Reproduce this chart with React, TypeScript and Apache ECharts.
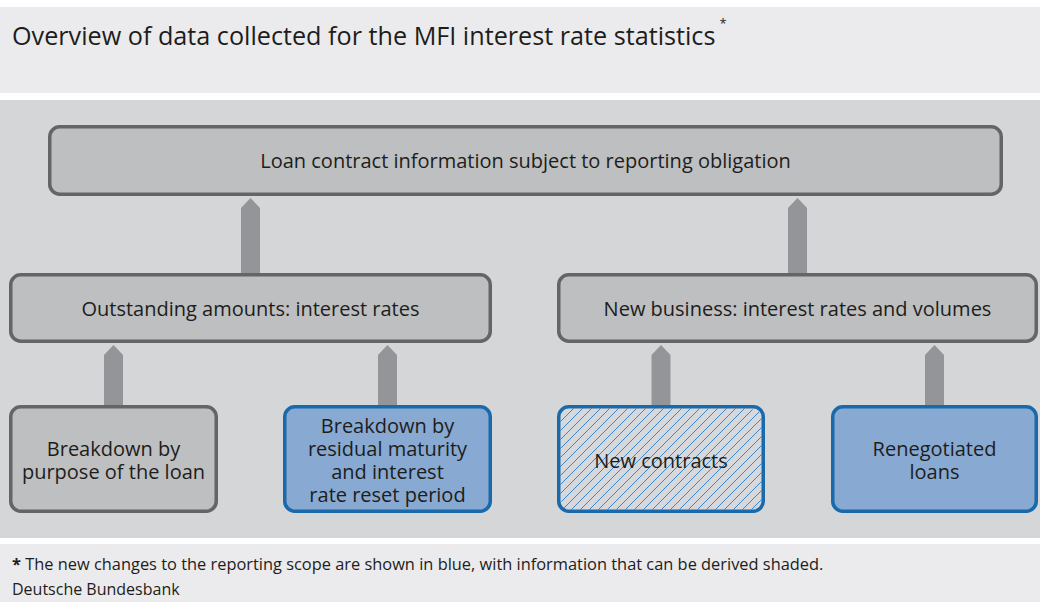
import React, { useEffect, useRef } from "react";
import * as echarts from "echarts";

// ---- content ----
const titleText = "Overview of data collected for the MFI interest rate statistics";
const topLabel = "Loan contract information subject to reporting obligation";
const midLabels = ["Outstanding amounts: interest rates", "New business: interest rates and volumes"];
const bottomLabels = [
  ["Breakdown by", "purpose of the loan"],
  ["Breakdown by", "residual maturity", "and interest", "rate reset period"],
  ["New contracts"],
  ["Renegotiated", "loans"],
];
// existing = grey, new = blue, derived = blue hatched
const bottomKinds = ["existing", "new", "derived", "new"];
const bottomParent = [0, 0, 1, 1];
const footnoteText = " The new changes to the reporting scope are shown in blue, with information that can be derived shaded.";
const sourceText = "Deutsche Bundesbank";

// ---- layout & style ----
const FONT = "'Open Sans', 'Noto Sans', sans-serif";
const C = {
  panel: "#D5D6D8",
  light: "#EBEBED",
  boxFill: "#BEBFC1",
  boxStroke: "#646567",
  blueFill: "#88A9D1",
  blueStroke: "#1A69AB",
  hatch: "#3C87C8",
  hatchFill: "#D6D8DB",
  arrow: "#949599",
  text: "#1D1D1B",
};
const BW = 3.5;
const R = 10;
const topBox = { x0: 48, y0: 125, x1: 1003, y1: 196 };
const midBoxes = [
  { x0: 9, y0: 273, x1: 492, y1: 343 },
  { x0: 557, y0: 273, x1: 1038, y1: 343 },
];
const bottomBoxes = [
  { x0: 9, y0: 405, x1: 218, y1: 513 },
  { x0: 283, y0: 405, x1: 492, y1: 513 },
  { x0: 557, y0: 405, x1: 765, y1: 513 },
  { x0: 831, y0: 405, x1: 1038, y1: 513 },
];

function boxRect(b: any, fill: string, stroke: string) {
  return {
    type: "rect",
    shape: {
      x: b.x0 + BW / 2,
      y: b.y0 + BW / 2,
      width: b.x1 - b.x0 - BW,
      height: b.y1 - b.y0 - BW,
      r: R,
    },
    style: { fill, stroke, lineWidth: BW },
  };
}

function arrow(cx: number, tipY: number, bottomY: number) {
  const hw = 9.5;
  return {
    type: "polygon",
    shape: {
      points: [
        [cx - hw, bottomY],
        [cx - hw, tipY + 10],
        [cx, tipY],
        [cx + hw, tipY + 10],
        [cx + hw, bottomY],
      ],
    },
    style: { fill: C.arrow },
  };
}

function label(lines: string[], cx: number, cy: number, size = 20, lh = 23) {
  return {
    type: "text",
    style: {
      text: lines.join("\n"),
      x: cx,
      y: cy,
      align: "center",
      verticalAlign: "middle",
      fontSize: size,
      fontFamily: FONT,
      lineHeight: lh,
      fill: C.text,
    },
  };
}

function insideRounded(x: number, y: number, b: any, r: number) {
  if (x < b.x0 || x > b.x1 || y < b.y0 || y > b.y1) return false;
  const cxs = [b.x0 + r, b.x1 - r];
  const cys = [b.y0 + r, b.y1 - r];
  const cx = x < cxs[0] ? cxs[0] : x > cxs[1] ? cxs[1] : null;
  const cy = y < cys[0] ? cys[0] : y > cys[1] ? cys[1] : null;
  if (cx !== null && cy !== null) {
    return (x - cx) * (x - cx) + (y - cy) * (y - cy) <= r * r;
  }
  return true;
}

function hatchLines(b0: any) {
  const ins = BW;
  const b = { x0: b0.x0 + ins, y0: b0.y0 + ins, x1: b0.x1 - ins, y1: b0.y1 - ins };
  const r = R - ins / 2;
  const out: any[] = [];
  const step = 9;
  for (let c = b.x0 + b.y0 + 4; c < b.x1 + b.y1; c += step) {
    const xs = Math.max(b.x0, c - b.y1);
    const xe = Math.min(b.x1, c - b.y0);
    if (xe <= xs) continue;
    const N = 120;
    let first = -1, last = -1;
    for (let i = 0; i <= N; i++) {
      const x = xs + ((xe - xs) * i) / N;
      const y = c - x;
      if (insideRounded(x, y, b, r)) {
        if (first < 0) first = i;
        last = i;
      }
    }
    if (first < 0 || last <= first) continue;
    const xa = xs + ((xe - xs) * first) / N;
    const xb = xs + ((xe - xs) * last) / N;
    out.push({
      type: "line",
      shape: { x1: xa, y1: c - xa, x2: xb, y2: c - xb },
      style: { stroke: C.hatch, lineWidth: 1 },
    });
  }
  return out;
}

function measure(text: string, font: string) {
  const cv = document.createElement("canvas");
  const ctx = cv.getContext("2d")!;
  ctx.font = font;
  return ctx.measureText(text).width;
}

export default function App() {
  const ref = useRef<HTMLDivElement>(null);
  useEffect(() => {
    document.body.style.margin = "0";
    const chart = echarts.init(ref.current!, null, { renderer: "svg" });
    const els: any[] = [];

    // panels
    els.push({ type: "rect", shape: { x: 0, y: 7, width: 1040, height: 86 }, style: { fill: C.light } });
    els.push({ type: "rect", shape: { x: 0, y: 100, width: 1040, height: 438 }, style: { fill: C.panel } });
    els.push({ type: "rect", shape: { x: 0, y: 544, width: 1040, height: 58 }, style: { fill: C.light } });

    // title
    const titleSize = 25.2;
    els.push({
      type: "text",
      style: { text: titleText, x: 12, y: 35, verticalAlign: "middle", fontSize: titleSize, fontFamily: FONT, fill: C.text },
    });
    const tw = measure(titleText, `${titleSize}px 'Open Sans'`);
    els.push({
      type: "text",
      style: { text: "*", x: 12 + tw + 4, y: 23, verticalAlign: "middle", fontSize: 13, fontFamily: FONT, fill: C.text },
    });

    // arrows top level
    midBoxes.forEach((b) => {
      const cx = (b.x0 + b.x1) / 2;
      els.push(arrow(cx, topBox.y1 + 2, b.y0 + 2));
    });
    // arrows bottom level
    bottomBoxes.forEach((b, i) => {
      const cx = (b.x0 + b.x1) / 2;
      els.push(arrow(cx, midBoxes[bottomParent[i]].y1 + 2, b.y0 + 2));
    });

    // top box
    els.push(boxRect(topBox, C.boxFill, C.boxStroke));
    els.push(label([topLabel], (topBox.x0 + topBox.x1) / 2, (topBox.y0 + topBox.y1) / 2));

    midBoxes.forEach((b, i) => {
      els.push(boxRect(b, C.boxFill, C.boxStroke));
      els.push(label([midLabels[i]], (b.x0 + b.x1) / 2, (b.y0 + b.y1) / 2));
    });

    bottomBoxes.forEach((b, i) => {
      const kind = bottomKinds[i];
      if (kind === "existing") {
        els.push(boxRect(b, C.boxFill, C.boxStroke));
      } else if (kind === "new") {
        els.push(boxRect(b, C.blueFill, C.blueStroke));
      } else {
        els.push({ ...boxRect(b, C.hatchFill, "none"), style: { fill: C.hatchFill } });
        hatchLines(b).forEach((l) => els.push(l));
        els.push(boxRect(b, "none", C.blueStroke));
      }
      els.push(label(bottomLabels[i], (b.x0 + b.x1) / 2, (b.y0 + b.y1) / 2 + 1, 20, 23));
    });

    // footnote
    els.push({
      type: "text",
      style: {
        text: "{b|*}{n|" + footnoteText + "}",
        x: 12,
        y: 563,
        verticalAlign: "middle",
        fontFamily: FONT,
        fill: C.text,
        rich: {
          b: { fontSize: 16.4, fontWeight: "bold", fontFamily: FONT, fill: C.text },
          n: { fontSize: 16.4, fontFamily: FONT, fill: C.text },
        },
      },
    });
    els.push({
      type: "text",
      style: { text: sourceText, x: 12, y: 589, verticalAlign: "middle", fontSize: 16, fontFamily: FONT, fill: C.text },
    });

    chart.setOption({
      animation: false,
      backgroundColor: "#FFFFFF",
      graphic: { elements: els },
    });
    return () => chart.dispose();
  }, []);
  return <div ref={ref} style={{ position: "fixed", left: 0, top: 0, width: 1040, height: 604 }} />;
}
